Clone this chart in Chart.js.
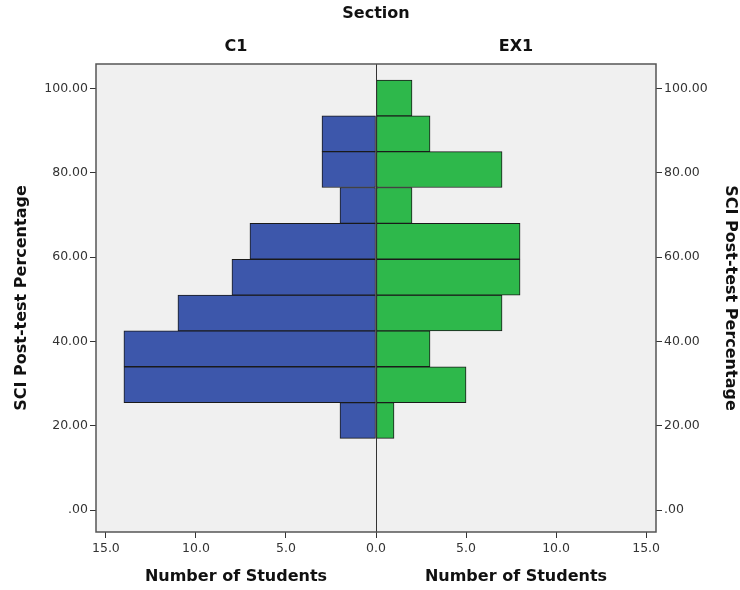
<!DOCTYPE html>
<html>
<head>
<meta charset="utf-8">
<script src="https://cdn.jsdelivr.net/npm/chart.js@4/dist/chart.umd.min.js"></script>
<style>
  html, body { margin: 0; padding: 0; background: #ffffff; }
  #wrap { width: 740px; height: 590px; }
</style>
</head>
<body>
<div id="wrap"><canvas id="chart" width="740" height="590"></canvas></div>
<script>
// Score bins (lower/upper edges of each histogram bar, SCI post-test %)
const binLower = [17.0, 25.5, 34.0, 42.5, 51.0, 59.5, 68.0, 76.5, 85.0, 93.5];
const binUpper = [25.5, 34.0, 42.5, 51.0, 59.5, 68.0, 76.5, 85.0, 93.5, 102.0];
// Number of students per bin in each section
const countC1  = [2, 14, 14, 11, 8, 7, 2, 3, 3, 0];
const countEX1 = [1, 5, 3, 7, 8, 8, 2, 7, 3, 2];
// Panel and axis labels
const sections = ['C1', 'EX1'];
const yTickValues = [0, 20, 40, 60, 80, 100];
const xTickValues = [-15, -10, -5, 0, 5, 10, 15];

const FONT = '"DejaVu Sans", "Liberation Sans", sans-serif';
const BLUE = '#3d57ab';
const GREEN = '#2eb84b';

const mid = (i) => (binLower[i] + binUpper[i]) / 2;
const c1Points = countC1.map((c, i) => ({ x: c > 0 ? -c : null, y: mid(i) }));
const ex1Points = countEX1.map((c, i) => ({ x: c > 0 ? c : null, y: mid(i) }));

const yTickLabel = (v) => (v === 0 ? '.00' : v.toFixed(2));

// Frame, panel headings and per-panel axis titles
const pyramidDecor = {
  id: 'pyramidDecor',
  beforeDraw(chart) {
    const { ctx, chartArea: a } = chart;
    ctx.save();
    ctx.fillStyle = '#f0f0f0';
    ctx.fillRect(a.left, a.top, a.right - a.left, a.bottom - a.top);
    ctx.restore();
  },
  afterDraw(chart) {
    const { ctx, chartArea: a, scales } = chart;
    const x0 = scales.x.getPixelForValue(0);
    ctx.save();
    // vertical divider between the two sections
    ctx.strokeStyle = '#333';
    ctx.lineWidth = 1;
    ctx.beginPath();
    ctx.moveTo(Math.round(x0) + 0.5, a.top);
    ctx.lineTo(Math.round(x0) + 0.5, a.bottom);
    ctx.stroke();
    // outer frame
    ctx.strokeStyle = '#555';
    ctx.lineWidth = 1.5;
    ctx.strokeRect(a.left, a.top, a.right - a.left, a.bottom - a.top);

    const leftC = (a.left + x0) / 2;
    const rightC = (x0 + a.right) / 2;
    ctx.fillStyle = '#111';
    ctx.textAlign = 'center';
    ctx.textBaseline = 'middle';
    ctx.font = 'bold 16px ' + FONT;
    ctx.fillText('Section', (a.left + a.right) / 2, 14);
    ctx.fillText(sections[0], leftC, 47);
    ctx.fillText(sections[1], rightC, 47);
    ctx.fillText('Number of Students', leftC, 577);
    ctx.fillText('Number of Students', rightC, 577);
    ctx.restore();
  }
};

const yAxis = (position, width, titlePad) => ({
  type: 'linear',
  position,
  min: -5.2,
  max: 105.8,
  offset: false,
  afterBuildTicks: (s) => { s.ticks = yTickValues.map(v => ({ value: v })); },
  afterFit: (s) => { s.width = width; },
  ticks: {
    callback: yTickLabel,
    color: '#333',
    font: { family: FONT, size: 12.5 },
    padding: 2,
    autoSkip: false
  },
  grid: { drawOnChartArea: false, offset: false, tickLength: 6, tickColor: '#333' },
  border: { display: false },
  title: {
    display: true,
    text: 'SCI Post-test Percentage',
    color: '#111',
    font: { family: FONT, size: 16, weight: 'bold' },
    padding: { top: titlePad, bottom: 0 }
  }
});

new Chart(document.getElementById('chart'), {
  type: 'bar',
  data: {
    datasets: [
      {
        label: sections[0],
        data: c1Points,
        backgroundColor: BLUE,
        borderColor: '#1a1a1a',
        borderWidth: 1,
        borderSkipped: false
      },
      {
        label: sections[1],
        data: ex1Points,
        backgroundColor: GREEN,
        borderColor: '#1a1a1a',
        borderWidth: 1,
        borderSkipped: false
      }
    ]
  },
  options: {
    indexAxis: 'y',
    responsive: false,
    animation: false,
    devicePixelRatio: 1,
    grouped: false,
    barPercentage: 1,
    categoryPercentage: 1,
    layout: { padding: { top: 64, left: 0, right: 0, bottom: 0 } },
    plugins: {
      legend: { display: false },
      tooltip: { enabled: false }
    },
    scales: {
      x: {
        type: 'linear',
        min: -15.55,
        max: 15.55,
        offset: false,
        afterBuildTicks: (s) => { s.ticks = xTickValues.map(v => ({ value: v })); },
        afterFit: (s) => { s.height = 58; },
        ticks: {
          callback: (v) => Math.abs(v).toFixed(1),
          color: '#333',
          font: { family: FONT, size: 12.5 },
          padding: 3,
          maxRotation: 0,
          autoSkip: false
        },
        grid: {
          drawOnChartArea: false,
          offset: false,
          tickLength: 6,
          tickColor: '#333'
        },
        border: { display: false }
      },
      y: yAxis('left', 96, 12),
      y2: yAxis('right', 84, 0)
    }
  },
  plugins: [pyramidDecor]
});
</script>
</body>
</html>
